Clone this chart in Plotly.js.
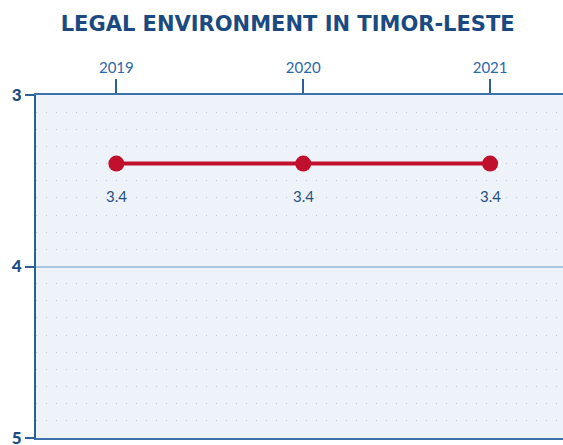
<!DOCTYPE html>
<html>
<head>
<meta charset="utf-8">
<script src="https://cdn.plot.ly/plotly-3.0.1.min.js"></script>
<style>html,body{margin:0;padding:0;background:#fff;}#chart{width:563px;height:445px;}</style>
</head>
<body>
<div id="chart"></div>
<script>
const years = [2019, 2020, 2021];
const scores = [3.4, 3.4, 3.4];
const labels = ["3.4", "3.4", "3.4"];
const yTicks = [3, 4, 5];
const yTickText = ["3", "4", "5"];

const trace = {
  x: years,
  y: scores,
  type: "scatter",
  mode: "lines+markers",
  line: {color: "#c0102e", width: 4},
  marker: {color: "#c0102e", size: 16},
  hoverinfo: "skip",
  cliponaxis: false
};

const annotations = years.map((yr, i) => ({
  x: yr, y: scores[i], xref: "x", yref: "y",
  text: labels[i], showarrow: false, yshift: -32,
  font: {family: "Lato, 'Open Sans', sans-serif", size: 15, color: "#24507e"}
}));

const layout = {
  width: 563, height: 445,
  margin: {l: 36, r: 0, t: 95, b: 7},
  paper_bgcolor: "#ffffff",
  plot_bgcolor: "#eef3fa",
  showlegend: false,
  title: {
    text: "LEGAL ENVIRONMENT IN TIMOR-LESTE",
    x: 0.511, xanchor: "center", y: 0.947, yanchor: "middle",
    font: {family: "'DejaVu Sans', sans-serif", size: 21, color: "#1b4a82", weight: "bold"}
  },
  xaxis: {
    side: "top",
    range: [2018.57, 2021.39],
    tickvals: years,
    ticktext: years.map(String),
    ticks: "outside", ticklen: 14, tickwidth: 2, tickcolor: "#2d5f98",
    showline: true, linecolor: "#3d72aa", linewidth: 2, mirror: true,
    showgrid: false, zeroline: false,
    tickfont: {family: "Lato, sans-serif", size: 15, color: "#2a68a6"},
    fixedrange: true
  },
  yaxis: {
    range: [5, 3],
    tickvals: yTicks,
    ticktext: yTickText,
    ticks: "outside", ticklen: 9, tickwidth: 2, tickcolor: "#2d5f98",
    showline: true, linecolor: "#2d5f98", linewidth: 2,
    showgrid: true, gridcolor: "#a9c6e0", gridwidth: 2,
    zeroline: false,
    ticklabeloverflow: "allow",
    tickfont: {family: "Lato, sans-serif", size: 17, color: "#1b4a82", weight: 900},
    minor: {dtick: 0.1, showgrid: true, gridcolor: "#b9c7d9", gridwidth: 1, griddash: "1px,9px"},
    fixedrange: true
  },
  annotations: annotations
};

Plotly.newPlot("chart", [trace], layout, {displayModeBar: false, staticPlot: true});
</script>
</body>
</html>
